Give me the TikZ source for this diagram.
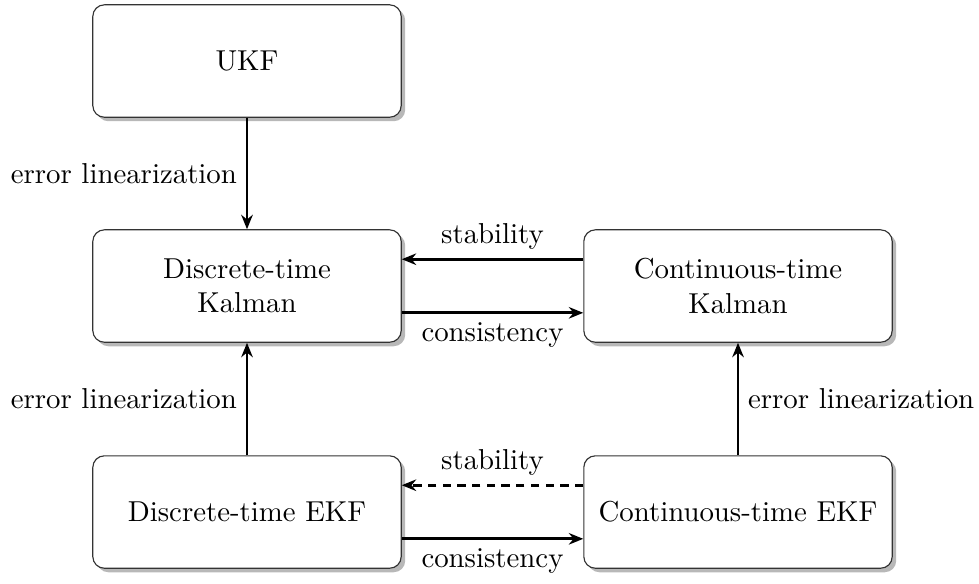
\documentclass[tikz,border=0pt]{standalone}
\usetikzlibrary{arrows.meta,shadows}
\begin{document}
\begin{tikzpicture}[x=0.347pt,y=-0.347pt,
  box/.style={draw=black!80, rounded corners=4pt, fill=white, minimum width=107pt, minimum height=39pt, align=center, inner sep=2pt,
    drop shadow={shadow xshift=1.4pt, shadow yshift=-1.4pt, fill=black!28, opacity=1}},
  arr/.style={-{Stealth[length=5pt,width=4pt]}, line width=1pt},
  lbl/.style={inner sep=3pt}]
\useasboundingbox (0,0) rectangle (979,583);
\node[box] (ukf) at (247,61) {UKF};
\node[box] (dk) at (247,286) {Discrete-time\\Kalman};
\node[box] (ck) at (738,286) {Continuous-time\\Kalman};
\node[box] (dekf) at (247,512) {Discrete-time EKF};
\node[box] (cekf) at (738,512) {Continuous-time EKF};
\draw[arr] (ukf) -- (dk) node[midway,left,lbl] {error linearization};
\draw[arr] (dekf) -- (dk) node[midway,left,lbl] {error linearization};
\draw[arr] (cekf) -- (ck) node[midway,right,lbl] {error linearization};
\draw[arr] ([yshift=9.3pt]ck.west) -- ([yshift=9.3pt]dk.east) node[midway,above,lbl] {stability};
\draw[arr] ([yshift=-9.3pt]dk.east) -- ([yshift=-9.3pt]ck.west) node[midway,below,lbl] {consistency};
\draw[arr,dash pattern=on 2.9pt off 2.2pt] ([yshift=9.3pt]cekf.west) -- ([yshift=9.3pt]dekf.east) node[midway,above,lbl] {stability};
\draw[arr] ([yshift=-9.3pt]dekf.east) -- ([yshift=-9.3pt]cekf.west) node[midway,below,lbl] {consistency};
\end{tikzpicture}
\end{document}
